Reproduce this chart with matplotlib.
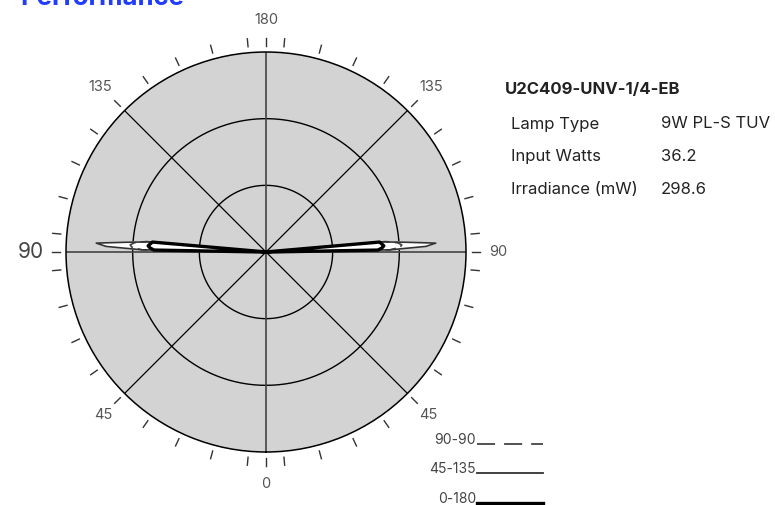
import numpy as np
import matplotlib
matplotlib.use("Agg")
import matplotlib.pyplot as plt

plt.rcParams['font.family'] = ['Inter', 'DejaVu Sans']

# ---- data (relative intensity, angle from nadir in degrees; mirrored left/right)
ANGLES = [0, 85, 89, 90, 91, 92, 93, 94, 95, 96, 100, 180]
S_90_90 = [0, 0, 0, 0.02, 0.62, 0.67, 0.68, 0.66, 0.60, 0.02, 0, 0]
S_45_135 = [0, 0, 0, 0.02, 0.62, 0.80, 0.85, 0.70, 0.58, 0.02, 0, 0]
S_0_180 = [0, 0, 0, 0.02, 0.56, 0.58, 0.59, 0.58, 0.57, 0.02, 0, 0]

ANGLE_LABELS = ["0", "45", "90", "135", "180", "135", "90", "45"]
ANGLE_LABEL_POS = [0, 45, 90, 135, 180, 225, 270, 315]

PRODUCT = "U2C409-UNV-1/4-EB"
INFO_KEYS = ["Lamp Type", "Input Watts", "Irradiance (mW)"]
INFO_VALUES = ["9W PL-S TUV", "36.2", "298.6"]

LEGEND = ["90-90", "45-135", "0-180"]

W, H = 775, 505
fig = plt.figure(figsize=(W / 100, H / 100), dpi=100)
cx, cy, R = 266, 252, 200
ax = fig.add_axes([(cx - R) / W, (H - cy - R) / H, 2 * R / W, 2 * R / H], projection='polar')
ax.set_theta_zero_location('S')
ax.set_theta_direction(1)
ax.set_ylim(0, 1)
ax.set_facecolor('#d3d3d3')
ax.set_xticks([])
ax.set_yticks([])
ax.grid(False)
ax.spines['polar'].set_color('black')
ax.spines['polar'].set_linewidth(1.1)

full = np.linspace(0, 2 * np.pi, 400)
for rr in [1 / 3, 2 / 3]:
    ax.plot(full, np.full_like(full, rr), color='black', lw=1.0, zorder=2)
for a in [45, 135]:
    t = np.deg2rad(a)
    ax.plot([t, t], [0, 1], color='black', lw=0.9, zorder=2)
    ax.plot([t + np.pi, t + np.pi], [0, 1], color='black', lw=0.9, zorder=2)
for a in [0, 90, 180, 270]:
    t = np.deg2rad(a)
    ax.plot([t, t], [0, 1], color='#444444', lw=1.2, zorder=2)

# outer ticks
tick_angles = list(np.arange(5, 360, 10)) + [0, 90, 180, 270]
for a in tick_angles:
    t = np.deg2rad(a)
    ax.plot([t, t], [1.03, 1.07], color='#333333', lw=1.0, clip_on=False)

for lab, a in zip(ANGLE_LABELS, ANGLE_LABEL_POS):
    t = np.deg2rad(a)
    if a == 270:
        ax.text(t, 1.175, lab, ha='center', va='center', fontsize=15, color='#444444', clip_on=False)
    else:
        r = 1.16 if a in (0, 90, 180) else (1.17 if a in (135, 225) else 1.15)
        ax.text(t, r, lab, ha='center', va='center', fontsize=10.5, color='#555555', clip_on=False)


def mirrored(vals):
    ang = np.array(ANGLES, dtype=float)
    v = np.array(vals, dtype=float)
    th = np.concatenate([ang, 360 - ang[::-1]])
    rr = np.concatenate([v, v[::-1]])
    return np.deg2rad(th), rr


series = [(S_90_90, dict(color='#444444', lw=1.2, ls=(0, (6, 3)))),
          (S_45_135, dict(color='#333333', lw=1.2, ls='-')),
          (S_0_180, dict(color='black', lw=2.4, ls='-'))]
for vals, st in series:
    th, rr = mirrored(vals)
    ax.fill(th, rr, color='white', zorder=3)
for vals, st in series:
    th, rr = mirrored(vals)
    ax.plot(th, rr, zorder=4, **st)

# title (cut off at top, as in the reference)
fig.text(20 / W, 1 - 5 / H, "Performance", fontsize=18.5, fontweight='bold', color='#1f3cff',
         ha='left', va='baseline')

# info table
fig.text(505 / W, 1 - 90 / H, PRODUCT, fontsize=12, fontweight='bold', color='#222222',
         ha='left', va='center')
for i, (k, v) in enumerate(zip(INFO_KEYS, INFO_VALUES)):
    y = 1 - (124 + 32.5 * i) / H
    fig.text(511 / W, y, k, fontsize=12, color='#222222', ha='left', va='center')
    fig.text(661 / W, y, v, fontsize=12, color='#222222', ha='left', va='center')

# legend
leg_y = [444, 473, 503]
for (lab, (vals, st), y) in zip(LEGEND, series, leg_y):
    fy = 1 - y / H
    fig.text(476 / W, fy, lab, fontsize=10, color='#444444', ha='right', va='baseline')
    fig.add_artist(plt.Line2D([477 / W, 543 / W], [fy, fy], transform=fig.transFigure,
                              color=st['color'], lw=st['lw'] if st['lw'] > 2 else 1.3,
                              ls=(0, (10, 5)) if lab == "90-90" else '-'))

fig.savefig("out.png", dpi=100)
